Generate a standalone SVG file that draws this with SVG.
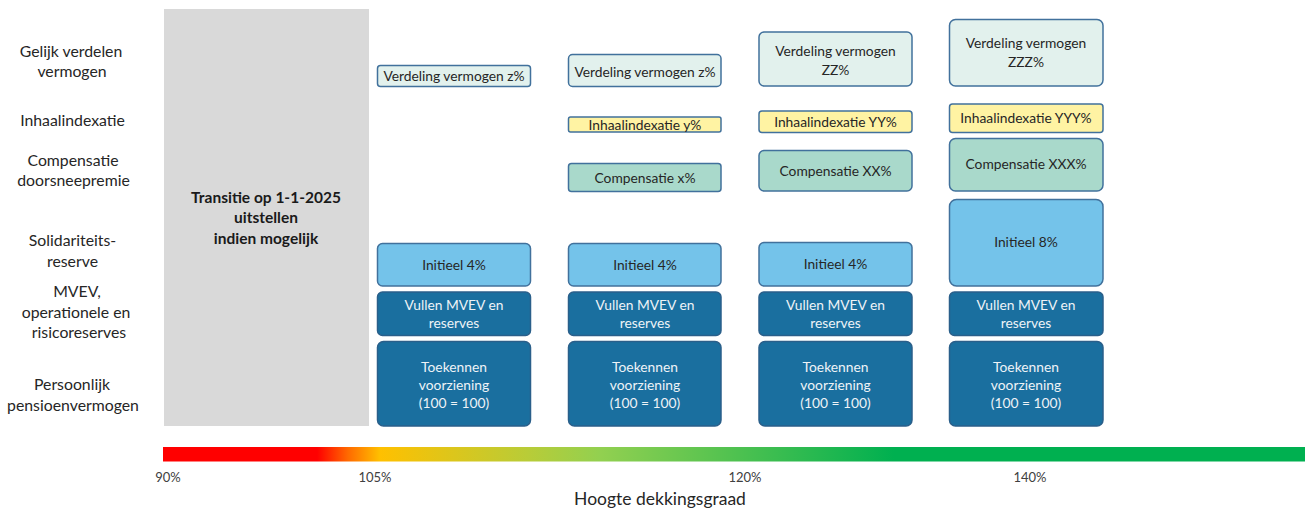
<svg xmlns="http://www.w3.org/2000/svg" width="1309" height="511" viewBox="0 0 1309 511">
<style>
text{font-family:Lato,"Liberation Sans",sans-serif;text-anchor:middle}
.lbl{font-size:15.8px;fill:#262626}
.bt{font-size:13.8px;fill:#262626}
.wt{font-size:13.8px;fill:#eef3f7}
.ax{font-size:13px;fill:#404040}
.verd{fill:#e2f1ed;stroke:#41719c;stroke-width:1.5}
.inh{fill:#fff3a3;stroke:#41719c;stroke-width:1.5}
.comp{fill:#a9d9cb;stroke:#41719c;stroke-width:1.5}
.init{fill:#74c3ea;stroke:#41719c;stroke-width:1.5}
.dark{fill:#1a6f9f;stroke:#2a5f8a;stroke-width:1.5}
</style>
<defs>
<linearGradient id="dg" x1="163" y1="0" x2="1305" y2="0" gradientUnits="userSpaceOnUse">
<stop offset="0" stop-color="#ff0000"/>
<stop offset="0.135" stop-color="#ff0000"/>
<stop offset="0.162" stop-color="#ff6a00"/>
<stop offset="0.19" stop-color="#ffc000"/>
<stop offset="0.32" stop-color="#b8cc38"/>
<stop offset="0.383" stop-color="#92d050"/>
<stop offset="0.64" stop-color="#00b050"/>
<stop offset="1" stop-color="#00b050"/>
</linearGradient>
</defs>
<rect width="1309" height="511" fill="#ffffff"/>

<g id="row-labels">
<text class="lbl" x="71" y="57">Gelijk verdelen</text>
<text class="lbl" x="72" y="77">vermogen</text>
<text class="lbl" x="72.5" y="126">Inhaalindexatie</text>
<text class="lbl" x="73" y="166">Compensatie</text>
<text class="lbl" x="73.5" y="186">doorsneepremie</text>
<text class="lbl" x="72.5" y="246">Solidariteits-</text>
<text class="lbl" x="72.5" y="267">reserve</text>
<text class="lbl" x="77" y="297">MVEV,</text>
<text class="lbl" x="76" y="318">operationele en</text>
<text class="lbl" x="79" y="338">risicoreserves</text>
<text class="lbl" x="72" y="390">Persoonlijk</text>
<text class="lbl" x="73" y="411">pensioenvermogen</text>
</g>

<g id="transitie">
<rect x="164" y="9" width="205" height="417" fill="#d9d9d9"/>
<text x="266" y="203" font-size="15.5" font-weight="bold" fill="#1a1a1a">Transitie op 1-1-2025</text>
<text x="266" y="223" font-size="15.5" font-weight="bold" fill="#1a1a1a">uitstellen</text>
<text x="266" y="244" font-size="15.5" font-weight="bold" fill="#1a1a1a">indien mogelijk</text>
</g>

<g id="col1">
<g id="c1-verdeling"><rect class="verd" x="377.5" y="65.5" width="153" height="21" rx="3"/><text class="bt" x="454" y="81">Verdeling vermogen z%</text></g>
<g id="c1-initieel"><rect class="init" x="377.5" y="243.5" width="153" height="42.5" rx="5"/><text class="bt" x="454" y="270">Initieel 4%</text></g>
<g id="c1-vullen"><rect class="dark" x="377.5" y="292" width="153" height="43.5" rx="5"/><text class="wt" x="454" y="310">Vullen MVEV en</text><text class="wt" x="454" y="328">reserves</text></g>
<g id="c1-toekennen"><rect class="dark" x="377.5" y="341.5" width="153" height="84.5" rx="6"/><text class="wt" x="454" y="372">Toekennen</text><text class="wt" x="454" y="390">voorziening</text><text class="wt" x="454" y="408">(100 = 100)</text></g>
</g>

<g id="col2">
<g id="c2-verdeling"><rect class="verd" x="568.5" y="54.5" width="152.5" height="32" rx="4"/><text class="bt" x="645" y="76.5">Verdeling vermogen z%</text></g>
<g id="c2-inhaal"><rect class="inh" x="568.5" y="117" width="152.5" height="15" rx="2"/><text class="bt" x="645" y="130">Inhaalindexatie y%</text></g>
<g id="c2-compensatie"><rect class="comp" x="568.5" y="163.5" width="152.5" height="28" rx="3"/><text class="bt" x="645" y="182.5">Compensatie x%</text></g>
<g id="c2-initieel"><rect class="init" x="568.5" y="243.5" width="152.5" height="42.5" rx="5"/><text class="bt" x="645" y="270">Initieel 4%</text></g>
<g id="c2-vullen"><rect class="dark" x="568.5" y="292" width="152.5" height="43.5" rx="5"/><text class="wt" x="645" y="310">Vullen MVEV en</text><text class="wt" x="645" y="328">reserves</text></g>
<g id="c2-toekennen"><rect class="dark" x="568.5" y="341.5" width="152.5" height="84.5" rx="6"/><text class="wt" x="645" y="372">Toekennen</text><text class="wt" x="645" y="390">voorziening</text><text class="wt" x="645" y="408">(100 = 100)</text></g>
</g>

<g id="col3">
<g id="c3-verdeling"><rect class="verd" x="759" y="32" width="153" height="54" rx="5"/><text class="bt" x="835.5" y="56">Verdeling vermogen</text><text class="bt" x="835.5" y="75">ZZ%</text></g>
<g id="c3-inhaal"><rect class="inh" x="759" y="111" width="153" height="21.5" rx="3"/><text class="bt" x="835.5" y="127">Inhaalindexatie YY%</text></g>
<g id="c3-compensatie"><rect class="comp" x="759" y="150.5" width="153" height="40.5" rx="5"/><text class="bt" x="835.5" y="176">Compensatie XX%</text></g>
<g id="c3-initieel"><rect class="init" x="759" y="242.5" width="153" height="43.5" rx="5"/><text class="bt" x="835.5" y="269">Initieel 4%</text></g>
<g id="c3-vullen"><rect class="dark" x="759" y="292" width="153" height="43.5" rx="5"/><text class="wt" x="835.5" y="310">Vullen MVEV en</text><text class="wt" x="835.5" y="328">reserves</text></g>
<g id="c3-toekennen"><rect class="dark" x="759" y="341.5" width="153" height="84.5" rx="6"/><text class="wt" x="835.5" y="372">Toekennen</text><text class="wt" x="835.5" y="390">voorziening</text><text class="wt" x="835.5" y="408">(100 = 100)</text></g>
</g>

<g id="col4">
<g id="c4-verdeling"><rect class="verd" x="949.5" y="19.5" width="153.5" height="66.5" rx="6"/><text class="bt" x="1026" y="48">Verdeling vermogen</text><text class="bt" x="1026" y="67">ZZZ%</text></g>
<g id="c4-inhaal"><rect class="inh" x="949.5" y="104" width="153.5" height="28.5" rx="3"/><text class="bt" x="1026" y="123">Inhaalindexatie YYY%</text></g>
<g id="c4-compensatie"><rect class="comp" x="949.5" y="138.5" width="153.5" height="52.5" rx="6"/><text class="bt" x="1026" y="169">Compensatie XXX%</text></g>
<g id="c4-initieel"><rect class="init" x="949.5" y="199.5" width="153.5" height="86.5" rx="7"/><text class="bt" x="1026" y="247">Initieel 8%</text></g>
<g id="c4-vullen"><rect class="dark" x="949.5" y="292" width="153.5" height="43.5" rx="5"/><text class="wt" x="1026" y="310">Vullen MVEV en</text><text class="wt" x="1026" y="328">reserves</text></g>
<g id="c4-toekennen"><rect class="dark" x="949.5" y="341.5" width="153.5" height="84.5" rx="6"/><text class="wt" x="1026" y="372">Toekennen</text><text class="wt" x="1026" y="390">voorziening</text><text class="wt" x="1026" y="408">(100 = 100)</text></g>
</g>

<g id="connectors"></g>

<g id="axis">
<rect x="163" y="447" width="1142" height="14.5" fill="url(#dg)"/>
<text class="ax" x="168" y="482">90%</text>
<text class="ax" x="375" y="482">105%</text>
<text class="ax" x="745" y="482">120%</text>
<text class="ax" x="1030" y="482">140%</text>
<text x="660" y="505" font-size="17.5" fill="#262626">Hoogte dekkingsgraad</text>
</g>
</svg>
